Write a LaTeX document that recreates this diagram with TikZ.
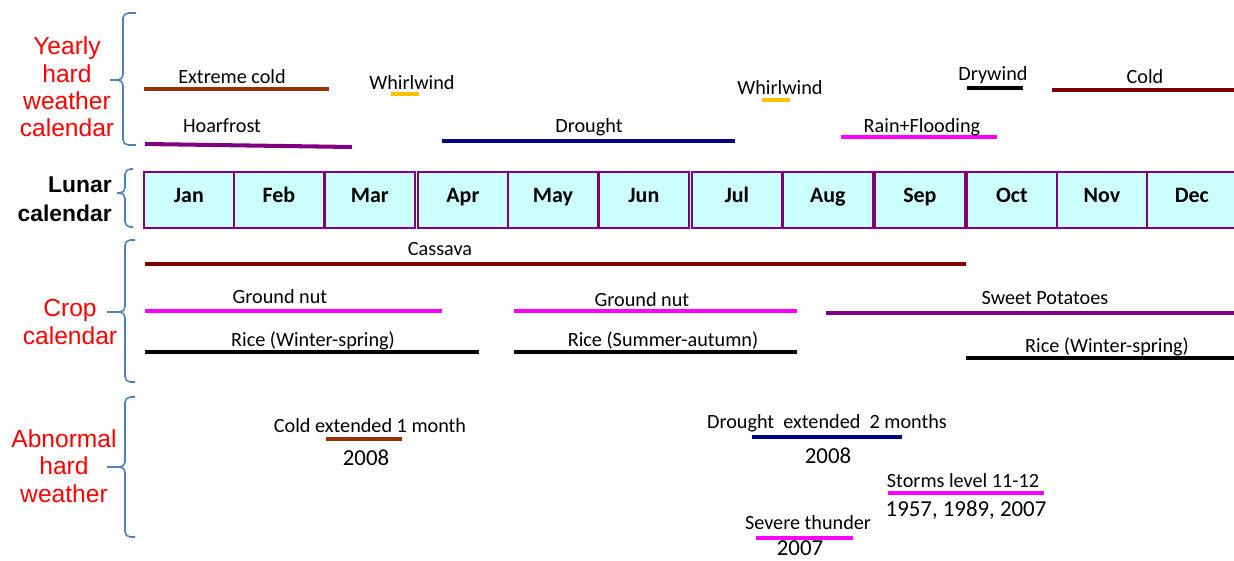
\documentclass[tikz,border=0pt]{standalone}
\usepackage{fontspec}
\setmainfont{Carlito}
\newfontfamily\headfont{Liberation Sans}
\usepackage{tikz}

\definecolor{bracecol}{RGB}{79,129,189}
\definecolor{monthfill}{RGB}{204,255,255}
\definecolor{monthline}{RGB}{128,0,128}
\definecolor{coldbrown}{RGB}{153,51,0}
\definecolor{windyellow}{RGB}{255,192,0}
\definecolor{frostpurple}{RGB}{128,0,128}
\definecolor{droughtnavy}{RGB}{0,0,128}
\definecolor{colddark}{RGB}{128,0,0}
\definecolor{rainpink}{RGB}{255,0,255}

\begin{document}
\begin{tikzpicture}[x=0.02cm,y=-0.02cm,
    brace/.style={draw=bracecol, line width=0.9pt, rounded corners=3pt},
    head/.style={text=red, font=\headfont\fontsize{14}{15.5}\selectfont, align=center, inner sep=0pt},
    month/.style={draw=monthline, fill=monthfill, line width=1pt, minimum width=1.8cm, minimum height=1.12cm,
        inner sep=0pt, text height=8pt, text depth=5.6pt, font=\bfseries\fontsize{12.5}{14}\selectfont},
    bar/.style={line width=2.3pt},
    lbl/.style={inner sep=0pt, anchor=base, font=\fontsize{11.5}{13}\selectfont},
    yr/.style={inner sep=0pt, anchor=base, font=\fontsize{13}{15}\selectfont}]
    \useasboundingbox (0,0) rectangle (1234,561);

    % row titles
    \node[head] (yearly) at (67,87) {Yearly\\hard\\weather\\calendar};
    \node[inner sep=0pt, align=right, anchor=east, font=\headfont\bfseries\fontsize{13}{16.4}\selectfont] (lunar) at (112,199) {Lunar\\calendar};
    \node[head] (crop) at (70,322) {Crop\\calendar};
    \node[head] (abnormal) at (64,466) {Abnormal\\hard\\weather};

    \draw[brace] (136,13) -- (123,13) -- (123,80) -- (110,80) (136,145) -- (123,145) -- (123,80) -- (110,80);
    \draw[brace] (133,169) -- (125,169) -- (125,193) -- (117,193) (133,227) -- (125,227) -- (125,193) -- (117,193);
    \draw[brace] (135,240) -- (125,240) -- (125,312) -- (107,312) (135,382) -- (125,382) -- (125,312) -- (107,312);
    \draw[brace] (135,397) -- (125,397) -- (125,467) -- (107,467) (135,537) -- (125,537) -- (125,467) -- (107,467);

    % months
    \foreach \m/\x in {Jan/143,Feb/233,Mar/324,Apr/417,May/507,Jun/598,Jul/691,Aug/782,Sep/874,Oct/966,Nov/1056,Dec/1146}
        \node[month, anchor=west] (\m) at (\x,200) {\m};

    % yearly hard weather
    \draw[bar, coldbrown] (144,89) -- (329,89);
    \node[lbl] (xcold) at (232,83) {Extreme cold};
    \draw[bar, windyellow] (391,94) -- (419,94);
    \node[lbl] (whirlA) at (412,89) {Whirlwind};
    \draw[bar, frostpurple] (145,144) -- (352,147);
    \node[lbl] (frost) at (222,132) {Hoarfrost};
    \draw[bar, droughtnavy] (442,141) -- (735,141);
    \node[lbl] (drought) at (589,132) {Drought};
    \draw[bar, windyellow] (762,100) -- (790,100);
    \node[lbl] (whirlB) at (780,94) {Whirlwind};
    \draw[bar, black] (967,88) -- (1023,88);
    \node[lbl] (drywind) at (993,80) {Drywind};
    \draw[bar, colddark] (1052,90) -- (1234,90);
    \node[lbl] (cold) at (1145,83) {Cold};
    \draw[bar, rainpink] (841,137) -- (997,137);
    \node[lbl] (rain) at (922,132) {Rain+Flooding};

    % crops
    \draw[bar, colddark] (145,264) -- (966,264);
    \node[lbl] (cassava) at (440,255) {Cassava};
    \draw[bar, rainpink] (145,311) -- (442,311);
    \node[lbl] (nutA) at (280,303) {Ground nut};
    \draw[bar, rainpink] (514,311) -- (797,311);
    \node[lbl] (nutB) at (642,306) {Ground nut};
    \draw[bar, frostpurple] (826,313) -- (1234,313);
    \node[lbl] (potato) at (1045,304) {Sweet Potatoes};
    \draw[bar, black] (145,352) -- (479,352);
    \node[lbl] (riceA) at (313,346) {Rice (Winter-spring)};
    \draw[bar, black] (514,352) -- (797,352);
    \node[lbl] (riceB) at (663,346) {Rice (Summer-autumn)};
    \draw[bar, black] (966,358) -- (1234,358);
    \node[lbl] (riceC) at (1107,352) {Rice (Winter-spring)};

    % abnormal hard weather
    \draw[bar, coldbrown] (326,439) -- (402,439);
    \node[lbl] (coldext) at (370,432) {Cold extended 1 month};
    \node[yr] (coldyr) at (366,465) {2008};
    \draw[bar, droughtnavy] (752,437) -- (902,437);
    \node[lbl] (droughtext) at (827,428) {Drought\ \ extended\ \ 2 months};
    \node[yr] (droughtyr) at (828,463) {2008};
    \draw[bar, rainpink] (888,493) -- (1044,493);
    \node[lbl] (storm) at (963,487) {Storms level 11-12};
    \node[yr] (stormyr) at (966,516) {1957, 1989, 2007};
    \draw[bar, rainpink] (756,538) -- (853,538);
    \node[lbl] (thunder) at (808,529) {Severe thunder};
    \node[yr] (thunderyr) at (800,555) {2007};
\end{tikzpicture}
\end{document}
